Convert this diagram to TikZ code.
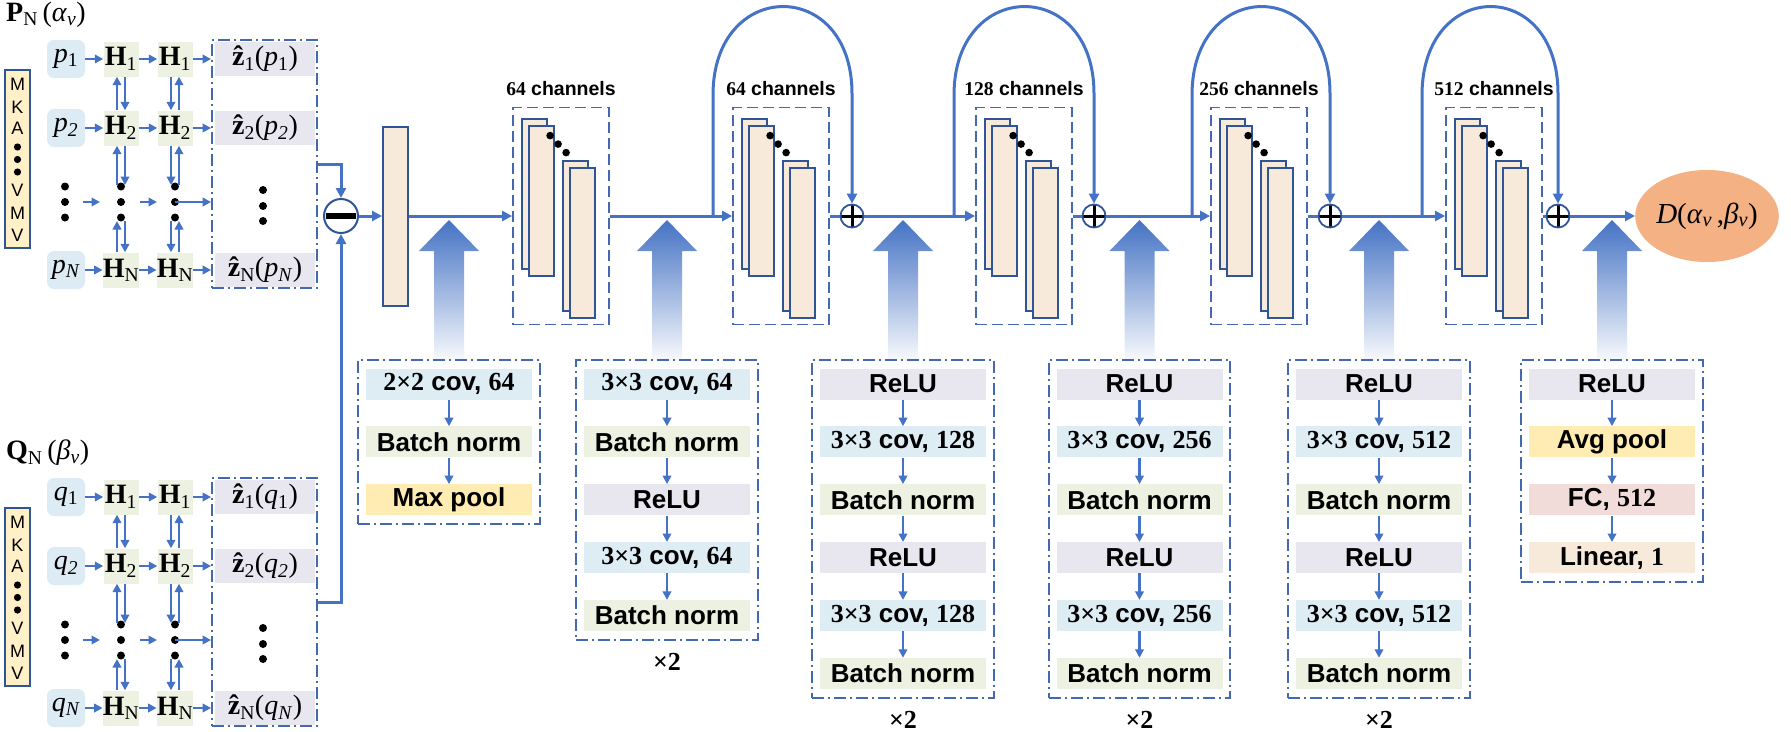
\documentclass[tikz,border=0pt]{standalone}
\usepackage{fontspec}
\setmainfont{Liberation Serif}
\setsansfont{Liberation Sans}
\usetikzlibrary{arrows.meta, positioning, calc, fit, shapes.geometric}

\definecolor{lineblue}{HTML}{4472C4}
\definecolor{edgeblue}{HTML}{2F5597}
\definecolor{framecol}{HTML}{4469B0}
\definecolor{infill}{HTML}{DDEBF5}
\definecolor{covfill}{HTML}{DEECF4}
\definecolor{hfill}{HTML}{EDF1E1}
\definecolor{zfill}{HTML}{E8E7EF}
\definecolor{poolfill}{HTML}{FFECB3}
\definecolor{fcfill}{HTML}{F2DCDA}
\definecolor{featfill}{HTML}{F8EADA}
\definecolor{mkafill}{HTML}{FFF0C8}
\definecolor{outfill}{HTML}{F4B183}

\newcommand\itm{\fontsize{28}{32}\selectfont}
\newcommand\lbl{\fontsize{26}{30}\selectfont\sffamily\bfseries}
\newcommand\chf{\fontsize{19.5}{22}\selectfont\sffamily\bfseries}
\newcommand\mka{\fontsize{18}{20}\selectfont\sffamily}
\newcommand\tn[1]{{\rmfamily\bfseries #1}}
\newcommand\zhat{{\bfseries\accent"02C6 z}}

\tikzstyle{arrow} = [line width=3pt, lineblue, -{Triangle[length=10pt,width=10pt]}]
\tikzstyle{flow} = [line width=3pt, lineblue]
\tikzstyle{sarrow} = [line width=2.5pt, lineblue, -{Triangle[length=8.5pt,width=8.5pt]}]
\tikzstyle{feat} = [draw=edgeblue, line width=2pt, fill=featfill]
\tikzstyle{src} = [rectangle, draw=edgeblue, line width=2pt, fill=mkafill, minimum width=25pt, minimum height=178pt, inner sep=0pt]
\tikzstyle{innode} = [rectangle, rounded corners=7pt, fill=infill, minimum size=38pt, inner sep=0pt, font=\itm]
\tikzstyle{hnode} = [rectangle, fill=hfill, minimum size=35pt, inner sep=0pt, font=\itm]
\tikzstyle{znode} = [rectangle, fill=zfill, minimum width=100pt, minimum height=34pt, inner sep=0pt, font=\itm]
\tikzstyle{opbox} = [rectangle, minimum width=166pt, minimum height=31pt, inner sep=0pt, font=\lbl]
\tikzstyle{dotframe} = [rectangle, draw=framecol, line width=1.8pt, dash pattern=on 12pt off 4pt on 2pt off 4pt, inner xsep=7.5pt, inner ysep=8.5pt]
\tikzstyle{chgroup} = [rectangle, draw=framecol, line width=1.8pt, dash pattern=on 11pt off 5pt, minimum width=96pt, minimum height=217pt, inner sep=0pt]

\begin{document}
\begin{tikzpicture}[x=1pt, y=-1pt,
    addnode/.style={circle, draw=edgeblue, line width=1.8pt, fill=white, minimum size=23pt, inner sep=0pt,
      path picture={\draw[black, line width=3pt] (path picture bounding box.west) -- (path picture bounding box.east)
        (path picture bounding box.north) -- (path picture bounding box.south);}},
    minusnode/.style={circle, draw=edgeblue, line width=2pt, fill=white, minimum size=34pt, inner sep=0pt,
      path picture={\fill[black] ($(path picture bounding box.center)+(-15pt,-3pt)$) rectangle ($(path picture bounding box.center)+(15pt,3pt)$);}}]
\useasboundingbox (0,0) rectangle (1791,731);

% input blocks P and Q
\foreach \blk/\sh/\v/\g in {P/0pt/p/α, Q/438pt/q/β}{
\begin{scope}[yshift=-\sh]
  \node[anchor=west, inner sep=0pt, font=\itm] (\blk-title) at (6,15) {\textbf{\blk}\textsubscript{N}\,(\textit{\g}\textsubscript{\textit{v}})};
  \node[src] (\blk-src) at (17.5,159) {};
  \foreach \ch/\yy in {M/84, K/107, A/128, V/190, M/213, V/235}
    \node[font=\mka, inner sep=0pt] (\blk-\ch\yy) at (17.5,\yy) {\ch};
  \foreach \yy in {147,159.5,172} \fill (17.5,\yy) circle[radius=3.6pt];
  \node[dotframe, minimum width=105pt, minimum height=248pt, inner sep=0pt] (\blk-zf) at (264.5,164) {};
  \foreach \r/\yy/\ps in {1/59/1, 2/128/\textit{2}, N/270/\textit{N}}{
    \node[innode] (\blk-in\r) at (66,\yy) {\textit{\v}\textsubscript{\ps}};
    \node[hnode] (\blk-ha\r) at (121,\yy) {\textbf{H}\textsubscript{\r}};
    \node[hnode] (\blk-hb\r) at (175,\yy) {\textbf{H}\textsubscript{\r}};
    \node[znode] (\blk-z\r) at (265,\yy) {\zhat\textsubscript{\r}(\textit{\v}\textsubscript{\ps})};
    \draw[sarrow] (\blk-in\r) -- (\blk-ha\r);
    \draw[sarrow] (\blk-ha\r) -- (\blk-hb\r);
    \draw[sarrow] (\blk-hb\r) -- (\blk-hb\r -| \blk-zf.west);
  }
  % dotted row
  \coordinate (\blk-dotin) at (65,202);
  \coordinate (\blk-dota) at (121,202);
  \coordinate (\blk-dotb) at (175,202);
  \foreach \col in {in,a,b} \foreach \dy in {-15.5,0,15.5} \fill ($(\blk-dot\col)+(0,\dy)$) circle[radius=4pt];
  \foreach \yy in {190,206,221} \fill (263,\yy) circle[radius=4pt];
  \draw[sarrow] ($(\blk-dotin)+(18,0)$) -- ($(\blk-dota)+(-21,0)$);
  \draw[sarrow] ($(\blk-dota)+(19,0)$) -- ($(\blk-dotb)+(-18,0)$);
  \draw[sarrow] (\blk-dotb) -- (\blk-dotb -| \blk-zf.west);
  % up and down links
  \foreach \col/\du/\dd in {a/-4/4, b/4/-4}{
    \draw[sarrow] ($(\blk-h\col 2.north)+(\du,0)$) -- ($(\blk-h\col 1.south)+(\du,0)$);
    \draw[sarrow] ($(\blk-h\col 1.south)+(\dd,0)$) -- ($(\blk-h\col 2.north)+(\dd,0)$);
    \draw[sarrow] ($(\blk-dot\col)+(\du,-17)$) -- ($(\blk-h\col 2.south)+(\du,0)$);
    \draw[sarrow] ($(\blk-h\col 2.south)+(\dd,0)$) -- ($(\blk-dot\col)+(\dd,-17)$);
    \draw[sarrow] ($(\blk-h\col N.north)+(\du,0)$) -- ($(\blk-dot\col)+(\du,19)$);
    \draw[sarrow] ($(\blk-dot\col)+(\dd,19)$) -- ($(\blk-h\col N.north)+(\dd,0)$);
  }
\end{scope}}

\node[minusnode] (minus) at (341,216) {};
\draw[arrow] (P-zf.east) -| (minus);
\draw[arrow] (Q-zf.east) -| (minus);
\node[feat, rectangle, minimum width=25pt, minimum height=179pt] (conv1) at (395.5,216) {};
\draw[arrow] (minus) -- (conv1);

% channel groups
\foreach \gx/\ch [count=\i] in {513/64, 733/64, 976/128, 1211/256, 1446/512}{
  \node[chgroup] (g\i) at (\gx+48,216) {};
  \node[above=11pt of g\i, inner sep=0pt, font=\chf] (t\i) {\tn{\ch} channels};
  \draw[feat] ($(g\i.north west)+(10,12)$) rectangle +(25,150);
  \draw[feat] ($(g\i.north west)+(17,19)$) rectangle +(25,150);
  \foreach \dx/\dy in {38/29, 46/37.5, 54/46} \fill ($(g\i.north west)+(\dx,\dy)$) circle[radius=3.8pt];
  \draw[feat] ($(g\i.north west)+(51,54)$) rectangle +(25,150);
  \draw[feat] ($(g\i.north west)+(58,61)$) rectangle +(25,150);
}
\foreach \i/\px in {2/852, 3/1094, 4/1330, 5/1558} \node[addnode] (add\i) at (\px,216) {};
\foreach \i/\sx in {2/713, 3/954, 4/1192, 5/1422} \coordinate (s\i) at (\sx,216);
\node[ellipse, fill=outfill, minimum width=124pt, minimum height=92pt, inner sep=0pt, font=\fontsize{29}{32}\selectfont] (out) at (1707,216) {\textit{D}(\textit{α}\textsubscript{\textit{v}}\,,\textit{β}\textsubscript{\textit{v}})};

\draw[arrow] (conv1) -- (g1);
\draw[arrow] (g1) -- (g2);
\foreach \i/\j in {2/3, 3/4, 4/5}{
  \draw[flow] (g\i) -- (add\i);
  \draw[arrow] (add\i) -- (g\j);
}
\draw[flow] (g5) -- (add5);
\draw[arrow] (add5) -- (out);
\foreach \i in {2,...,5}
  \draw[arrow] (s\i) -- ++(0,-121) .. controls +(0,-117) and +(0,-117) .. ($(add\i.north)+(0,-110)$) -- (add\i.north);

% wide arrows
\foreach \bx in {449, 667, 903, 1139.5, 1379, 1612}
  \shade[top color=lineblue, bottom color=lineblue!4] (\bx-30,251) -- (\bx,220) -- (\bx+30,251) -- (\bx+15,251) -- (\bx+15,360) -- (\bx-15,360) -- (\bx-15,251) -- cycle;

% box 1
\node[opbox, fill=covfill] (b1a) at (449,384) {\tn{2×2} cov, \tn{64}};
\node[opbox, fill=hfill, below=26.5pt of b1a] (b1b) {Batch norm};
\node[opbox, fill=poolfill, below=26.5pt of b1b] (b1c) {Max pool};
\node[dotframe, fit=(b1a)(b1c)] (box1) {};
\draw[sarrow] (b1a) -- (b1b);
\draw[sarrow] (b1b) -- (b1c);

% box 2
\node[opbox, fill=covfill] (b2a) at (667,384) {\tn{3×3} cov, \tn{64}};
\node[opbox, fill=hfill, below=26.5pt of b2a] (b2b) {Batch norm};
\node[opbox, fill=zfill, below=26.5pt of b2b] (b2c) {ReLU};
\node[opbox, fill=covfill, below=26.5pt of b2c] (b2d) {\tn{3×3} cov, \tn{64}};
\node[opbox, fill=hfill, below=26.5pt of b2d] (b2e) {Batch norm};
\node[dotframe, fit=(b2a)(b2e)] (box2) {};
\node[below=12pt of box2, inner sep=0pt, font=\lbl] (rep2) {\tn{×2}};
\foreach \u/\w in {a/b, b/c, c/d, d/e} \draw[sarrow] (b2\u) -- (b2\w);

% boxes 3 to 5
\foreach \bx/\nb/\ch in {903/3/128, 1139.5/4/256, 1379/5/512}{
  \node[opbox, fill=zfill] (b\nb a) at (\bx,384) {ReLU};
  \node[opbox, fill=covfill, below=26.5pt of b\nb a] (b\nb b) {\tn{3×3} cov, \tn{\ch}};
  \node[opbox, fill=hfill, below=26.5pt of b\nb b] (b\nb c) {Batch norm};
  \node[opbox, fill=zfill, below=26.5pt of b\nb c] (b\nb d) {ReLU};
  \node[opbox, fill=covfill, below=26.5pt of b\nb d] (b\nb e) {\tn{3×3} cov, \tn{\ch}};
  \node[opbox, fill=hfill, below=26.5pt of b\nb e] (b\nb f) {Batch norm};
  \node[dotframe, fit=(b\nb a)(b\nb f)] (box\nb) {};
  \node[below=12pt of box\nb, inner sep=0pt, font=\lbl] (rep\nb) {\tn{×2}};
  \foreach \u/\w in {a/b, b/c, c/d, d/e, e/f} \draw[sarrow] (b\nb\u) -- (b\nb\w);
}

% box 6
\node[opbox, fill=zfill] (b6a) at (1612,384) {ReLU};
\node[opbox, fill=poolfill, below=26.5pt of b6a] (b6b) {Avg pool};
\node[opbox, fill=fcfill, below=26.5pt of b6b] (b6c) {FC, \tn{512}};
\node[opbox, fill=featfill, below=26.5pt of b6c] (b6d) {Linear, \tn{1}};
\node[dotframe, fit=(b6a)(b6d)] (box6) {};
\foreach \u/\w in {a/b, b/c, c/d} \draw[sarrow] (b6\u) -- (b6\w);
\end{tikzpicture}
\end{document}
